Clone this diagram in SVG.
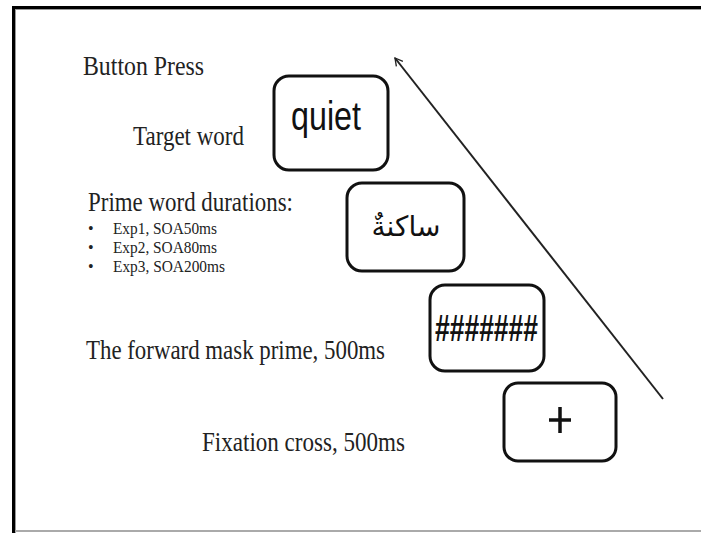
<svg xmlns="http://www.w3.org/2000/svg" width="701" height="533" viewBox="0 0 701 533">
  <style>
    .label { font-family: "Liberation Serif", "Times New Roman", serif; fill: #222; }
    .big { font-size: 27px; }
    .small { font-size: 16px; }
    .card { fill: #fff; stroke: #111; stroke-width: 3; }
    .stim { font-family: "Liberation Sans", Arial, sans-serif; fill: #111; }
    .link { stroke: #222; stroke-width: 2; fill: none; }
  </style>
  <defs>
    <marker id="openHead" viewBox="0 0 12 12" refX="10" refY="6" markerWidth="10" markerHeight="10" markerUnits="userSpaceOnUse" orient="auto">
      <path d="M1,1 L10,6 L1,11" fill="none" stroke="#222" stroke-width="1.6"/>
    </marker>
  </defs>

  <!-- slide frame -->
  <rect x="0" y="0" width="701" height="533" fill="#fff"/>
  <rect x="12" y="6" width="689" height="3" fill="#000"/>
  <rect x="12" y="6" width="3" height="527" fill="#000"/>
  <rect x="15" y="9" width="686" height="1" fill="#999"/>
  <rect x="15" y="9" width="1" height="524" fill="#999"/>
  <rect x="15" y="530" width="686" height="2" fill="#aaa"/>

  <!-- labels -->
  <g id="label-button">
    <text class="label big" x="83" y="75" textLength="121" lengthAdjust="spacingAndGlyphs">Button Press</text>
  </g>
  <g id="label-target">
    <text class="label big" x="133" y="145" textLength="111" lengthAdjust="spacingAndGlyphs">Target word</text>
  </g>
  <g id="label-prime">
    <text class="label big" x="88" y="211" textLength="205" lengthAdjust="spacingAndGlyphs">Prime word durations:</text>
    <g class="label small">
      <text x="88" y="234">•</text>
      <text x="113" y="234" textLength="104" lengthAdjust="spacingAndGlyphs">Exp1, SOA50ms</text>
      <text x="88" y="253">•</text>
      <text x="113" y="253" textLength="104" lengthAdjust="spacingAndGlyphs">Exp2, SOA80ms</text>
      <text x="88" y="272">•</text>
      <text x="113" y="272" textLength="112" lengthAdjust="spacingAndGlyphs">Exp3, SOA200ms</text>
    </g>
  </g>
  <g id="label-mask">
    <text class="label big" x="86" y="359" textLength="299" lengthAdjust="spacingAndGlyphs">The forward mask prime, 500ms</text>
  </g>
  <g id="label-fixation">
    <text class="label big" x="202" y="451" textLength="203" lengthAdjust="spacingAndGlyphs">Fixation cross, 500ms</text>
  </g>

  <!-- stimulus cards -->
  <g id="card-target">
    <rect class="card" x="274" y="76" width="114" height="94" rx="15"/>
    <text class="stim" x="291" y="130" font-size="40" textLength="70" lengthAdjust="spacingAndGlyphs">quiet</text>
  </g>
  <g id="card-prime">
    <rect class="card" x="347" y="183" width="117" height="88" rx="15"/>
    <text x="406" y="236" font-family="'DejaVu Sans', sans-serif" font-size="28" fill="#111" text-anchor="middle">ساكنةٌ</text>
  </g>
  <g id="card-mask">
    <rect class="card" x="430" y="285" width="114" height="86" rx="15"/>
    <text class="stim" x="435" y="341" font-size="36" font-weight="bold" textLength="103" lengthAdjust="spacingAndGlyphs">#######</text>
  </g>
  <g id="card-fixation">
    <rect class="card" x="504" y="383" width="112" height="78" rx="14"/>
    <path d="M560,407 V433 M549,420 H571" stroke="#111" stroke-width="3.5" fill="none"/>
  </g>

  <!-- time arrow -->
  <g id="connectors">
    <line class="link" x1="663" y1="399" x2="395" y2="58" marker-end="url(#openHead)"/>
  </g>
</svg>
